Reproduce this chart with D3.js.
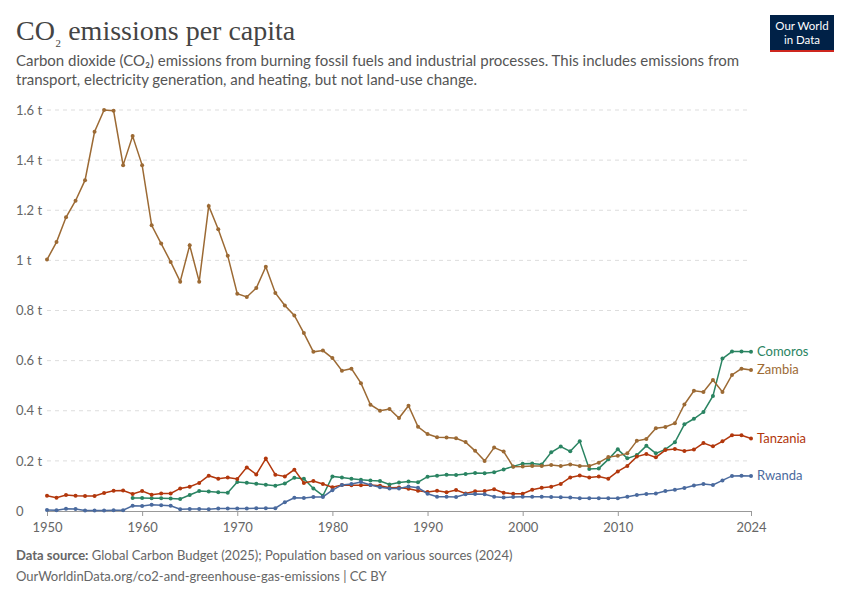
<!DOCTYPE html>
<meta charset="utf-8">
<style>
body { margin: 0; background: #fff; font-family: Lato, sans-serif; }
.grid line { stroke: #ddd; stroke-dasharray: 4,4; }
.tick text { fill: #666; font-size: 13px; font-family: Lato, sans-serif; }
</style>
<body></body>
<script src="https://d3js.org/d3.v7.min.js"></script>
<script>
var years = d3.range(1950, 2025);

var zambia = [1.003,1.073,1.172,1.238,1.32,1.513,1.6,1.597,1.38,1.496,
  1.38,1.14,1.067,0.994,0.915,1.06,0.915,1.217,1.124,1.018,
  0.867,0.854,0.89,0.975,0.87,0.82,0.78,0.71,0.635,0.64,
  0.61,0.56,0.568,0.51,0.424,0.40,0.407,0.371,0.42,0.336,
  0.307,0.294,0.293,0.29,0.275,0.24,0.2,0.253,0.237,0.177,
  0.178,0.18,0.18,0.184,0.18,0.186,0.18,0.18,0.193,0.215,
  0.22,0.23,0.28,0.287,0.33,0.335,0.35,0.425,0.48,0.475,
  0.523,0.475,0.543,0.568,0.563];

var tanzania = [0.061,0.053,0.064,0.061,0.06,0.06,0.072,0.081,0.082,0.068,
  0.08,0.065,0.07,0.07,0.09,0.097,0.112,0.141,0.129,0.134,
  0.128,0.174,0.146,0.209,0.145,0.138,0.165,0.112,0.12,0.108,
  0.095,0.104,0.103,0.103,0.104,0.101,0.093,0.094,0.089,0.081,
  0.076,0.081,0.075,0.084,0.07,0.079,0.08,0.087,0.073,0.069,
  0.069,0.085,0.093,0.097,0.108,0.134,0.142,0.134,0.138,0.129,
  0.158,0.18,0.217,0.227,0.214,0.243,0.247,0.239,0.245,0.271,
  0.258,0.278,0.302,0.302,0.289];

var rwanda = [0.004,0.003,0.009,0.008,0.002,0.002,0.002,0.003,0.003,0.021,
  0.02,0.025,0.023,0.021,0.007,0.008,0.008,0.007,0.01,0.01,
  0.01,0.01,0.011,0.011,0.011,0.035,0.053,0.052,0.056,0.056,
  0.083,0.104,0.108,0.116,0.104,0.095,0.09,0.09,0.098,0.093,
  0.069,0.057,0.057,0.056,0.067,0.068,0.067,0.057,0.054,0.056,
  0.057,0.057,0.057,0.056,0.055,0.054,0.051,0.051,0.051,0.051,
  0.051,0.057,0.064,0.068,0.07,0.08,0.085,0.092,0.102,0.108,
  0.104,0.122,0.14,0.141,0.14];

var comoros = [null,null,null,null,null,null,null,null,null,0.052,
  0.052,0.051,0.051,0.05,0.048,0.064,0.08,0.078,0.075,0.073,
  0.116,0.113,0.109,0.105,0.101,0.11,0.133,0.129,0.09,0.061,
  0.138,0.134,0.129,0.125,0.122,0.12,0.106,0.114,0.118,0.115,
  0.137,0.141,0.145,0.144,0.148,0.152,0.151,0.155,0.166,0.178,
  0.189,0.19,0.186,0.234,0.257,0.238,0.278,0.168,0.17,0.206,
  0.246,0.21,0.223,0.26,0.23,0.246,0.274,0.346,0.368,0.395,
  0.459,0.608,0.636,0.636,0.635];

var series = [
  {name: "Comoros", values: comoros, color: "#2a8462"},
  {name: "Zambia", values: zambia, color: "#9c6a34"},
  {name: "Tanzania", values: tanzania, color: "#b2370c"},
  {name: "Rwanda", values: rwanda, color: "#4a6a9e"}
];
var yTicks = [0, 0.2, 0.4, 0.6, 0.8, 1, 1.2, 1.4, 1.6];
var xTicks = [1950, 1960, 1970, 1980, 1990, 2000, 2010, 2024];

var width = 850, height = 600;
var svg = d3.select("body").append("svg").attr("width", width).attr("height", height);

svg.append("text").attr("x", 16).attr("y", 40)
  .style("font-family", "'Liberation Serif', 'DejaVu Serif', serif")
  .style("font-size", "28px").style("fill", "#444")
  .html("CO<tspan font-size='18px' dy='3'>₂</tspan><tspan dy='-3'> emissions per capita</tspan>");
svg.append("text").attr("x", 16).attr("y", 66).style("font-size", "15px").style("fill", "#555")
  .text("Carbon dioxide (CO₂) emissions from burning fossil fuels and industrial processes. This includes emissions from");
svg.append("text").attr("x", 16).attr("y", 85).style("font-size", "15px").style("fill", "#555")
  .text("transport, electricity generation, and heating, but not land-use change.");

// logo
svg.append("rect").attr("x", 770).attr("y", 15).attr("width", 64).attr("height", 35).attr("fill", "#002147");
svg.append("rect").attr("x", 770).attr("y", 50).attr("width", 64).attr("height", 2).attr("fill", "#ce261e");
svg.append("text").attr("x", 802).attr("y", 30).attr("text-anchor", "middle").style("font-size", "11.5px").style("fill", "#fff").text("Our World");
svg.append("text").attr("x", 802).attr("y", 44).attr("text-anchor", "middle").style("font-size", "11.5px").style("fill", "#fff").text("in Data");

var x = d3.scaleLinear().domain([1950, 2024]).range([47, 751]);
var y = d3.scaleLinear().domain([0, 1.6]).range([511, 110]);

var fmt = function(d) { return d === 0 ? "0" : d3.format("~g")(d) + " t"; };

svg.append("g").attr("class", "grid")
  .selectAll("line").data(yTicks.filter(function(d) { return d > 0; })).enter().append("line")
  .attr("x1", 47).attr("x2", 751)
  .attr("y1", function(d) { return y(d); }).attr("y2", function(d) { return y(d); });

var yAxis = svg.append("g").attr("transform", "translate(16,0)")
  .call(d3.axisRight(y).tickValues(yTicks).tickFormat(fmt).tickSize(0));
yAxis.select(".domain").remove();
yAxis.selectAll("text").attr("x", 0).attr("dy", "0.32em").style("text-anchor", "start");

var xAxis = svg.append("g").attr("transform", "translate(0,511)")
  .call(d3.axisBottom(x).tickValues(xTicks).tickFormat(d3.format("d")).tickSize(5).tickSizeOuter(0));
xAxis.select(".domain").attr("stroke", "#999");
xAxis.selectAll(".tick line").attr("stroke", "#999");
xAxis.selectAll("text").attr("dy", "1em");

var line = d3.line().defined(function(d) { return d[1] != null; })
  .x(function(d) { return x(d[0]); }).y(function(d) { return y(d[1]); });

series.forEach(function(s) {
  var pts = years.map(function(yr, i) { return [yr, s.values[i]]; });
  svg.append("path").datum(pts).attr("fill", "none").attr("stroke", s.color)
    .attr("stroke-width", 1.5).attr("d", line);
  svg.append("g").selectAll("circle").data(pts.filter(function(d) { return d[1] != null; }))
    .enter().append("circle").attr("r", 2).attr("fill", s.color)
    .attr("cx", function(d) { return x(d[0]); }).attr("cy", function(d) { return y(d[1]); });
  var last = pts[pts.length - 1];
  svg.append("text").attr("x", 757).attr("y", y(last[1])).attr("dy", "0.35em")
    .style("font-size", "13px").style("fill", s.color).text(s.name);
});

svg.append("text").attr("x", 16).attr("y", 560).style("font-size", "13px").style("fill", "#666")
  .html("<tspan font-weight='bold'>Data source:</tspan> Global Carbon Budget (2025); Population based on various sources (2024)");
svg.append("text").attr("x", 16).attr("y", 581).style("font-size", "13px").style("fill", "#666")
  .text("OurWorldinData.org/co2-and-greenhouse-gas-emissions | CC BY");
</script>
